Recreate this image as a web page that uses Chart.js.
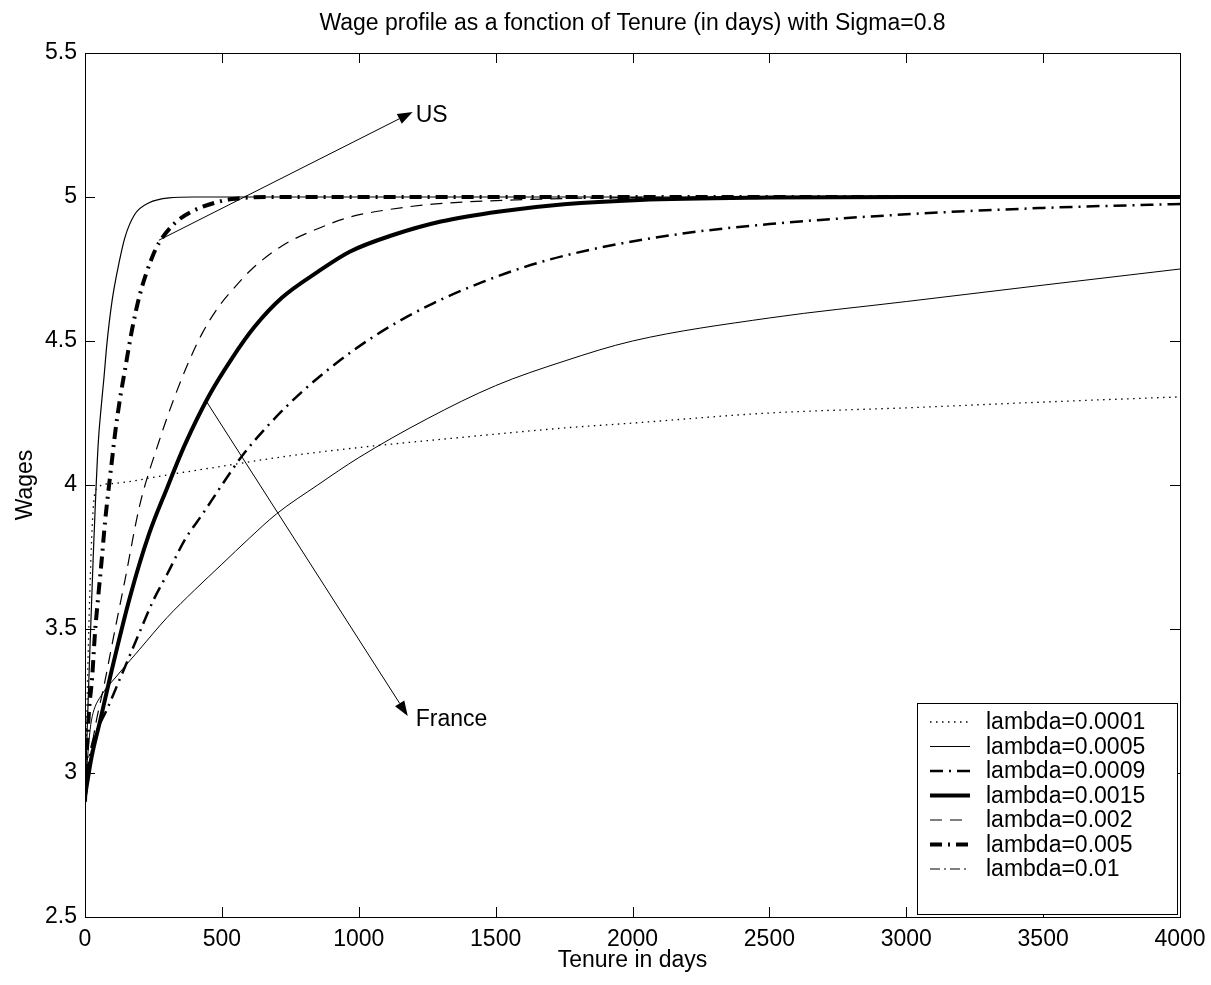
<!DOCTYPE html>
<html>
<head>
<meta charset="utf-8">
<title>Wage profile</title>
<script src="https://cdn.jsdelivr.net/npm/chart.js@4.4.1/dist/chart.umd.min.js"></script>
<style>
  html, body { margin: 0; padding: 0; background: #fff; }
  #wrap { width: 1211px; height: 985px; }
</style>
</head>
<body>
<div id="wrap"><canvas id="wageChart" width="1211" height="985"></canvas></div>
<script>
// --- Values: tenure in days / wage, one pair per lambda ---
const t0001 = [0, 10, 20, 30, 45, 100, 300, 500, 715, 1000, 1350, 1750, 2000, 2500, 3000, 3500, 4000];
const w0001 = [2.9, 3.35, 3.7, 3.92, 3.99, 4.005, 4.035, 4.065, 4.097, 4.13, 4.163, 4.198, 4.215, 4.25, 4.268, 4.288, 4.306];

const t0005 = [0, 10, 20, 30, 60, 110, 200, 300, 400, 500, 600, 700, 850, 1000, 1250, 1500, 1750, 2000, 2500, 3000, 3500, 4000];
const w0005 = [2.9, 3.06, 3.16, 3.21, 3.27, 3.33, 3.43, 3.54, 3.635, 3.725, 3.815, 3.9, 4.0, 4.095, 4.23, 4.345, 4.43, 4.5, 4.58, 4.637, 4.694, 4.75];

const t0009 = [0, 20, 50, 80, 120, 160, 200, 250, 300, 365, 430, 500, 573, 672, 800, 967, 1113, 1270, 1453, 1650, 1891, 2183, 2500, 3000, 3500, 4000];
const w0009 = [2.9, 3.07, 3.16, 3.22, 3.31, 3.4, 3.49, 3.6, 3.69, 3.81, 3.9, 4.0, 4.1, 4.21, 4.33, 4.458, 4.55, 4.63, 4.705, 4.77, 4.826, 4.873, 4.906, 4.94, 4.962, 4.976];

const t0015 = [0, 25, 55, 91, 164, 234, 300, 365, 453, 537, 620, 719, 850, 967, 1125, 1300, 1515, 1750, 2026, 2500, 3000, 4000];
const w0015 = [2.92, 3.06, 3.18, 3.33, 3.61, 3.83, 3.99, 4.14, 4.31, 4.44, 4.55, 4.65, 4.74, 4.81, 4.868, 4.915, 4.95, 4.975, 4.99, 4.998, 5.0, 5.0];

const t002 = [0, 30, 73, 110, 146, 200, 270, 325, 380, 430, 489, 550, 610, 719, 850, 967, 1100, 1270, 1577, 2000, 2500, 4000];
const w002 = [2.9, 3.12, 3.32, 3.5, 3.67, 3.93, 4.15, 4.3, 4.43, 4.53, 4.62, 4.69, 4.75, 4.83, 4.89, 4.93, 4.955, 4.975, 4.99, 4.998, 5.0, 5.0];

const t005 = [0, 7, 15, 26, 36, 51, 62, 73, 88, 99, 110, 128, 146, 172, 200, 245, 270, 329, 391, 475, 537, 700, 4000];
const w005 = [2.9, 3.08, 3.22, 3.33, 3.48, 3.64, 3.75, 3.87, 4.0, 4.09, 4.18, 4.3, 4.4, 4.54, 4.66, 4.79, 4.84, 4.91, 4.95, 4.98, 4.993, 5.0, 5.0];

const t001 = [0, 8, 15, 30, 48, 60, 69, 80, 99, 124, 146, 182, 234, 307, 400, 4000];
const w001 = [2.9, 3.15, 3.35, 3.75, 4.14, 4.28, 4.37, 4.49, 4.64, 4.77, 4.86, 4.94, 4.98, 4.997, 5.0, 5.0];

const seriesLabels = ["lambda=0.0001", "lambda=0.0005", "lambda=0.0009", "lambda=0.0015",
                      "lambda=0.002", "lambda=0.005", "lambda=0.01"];

const chartTitle = "Wage profile as a fonction of Tenure (in days) with Sigma=0.8";

// annotation arrows, in data coordinates (tenure, wage)
const arrowUS = { from: [270, 4.85], to: [1197, 5.295], text: "US", dx: 3 };
const arrowFrance = { from: [445, 4.288], to: [1179, 3.198], text: "France", dx: 8 };

const FONT = "'Liberation Sans', Arial, Helvetica, sans-serif";
const FSIZE = 23;

function pts(t, w) {
  return t.map((x, i) => ({ x: x, y: w[i] }));
}

function line(label, t, w, width, dash) {
  return {
    label: label,
    data: pts(t, w),
    borderColor: "#000",
    backgroundColor: "#000",
    borderWidth: width,
    borderDash: dash,
    pointRadius: 0,
    fill: false,
    cubicInterpolationMode: "monotone"
  };
}

// --- inner ticks + closed box (matlab style), title centred over the plot ---
const boxTicks = {
  id: "boxTicks",
  afterDatasetsDraw(chart) {
    const { ctx, chartArea: a, scales } = chart;
    const len = 10;
    ctx.save();
    ctx.strokeStyle = "#000";
    ctx.lineWidth = 1;
    ctx.setLineDash([]);
    ctx.beginPath();
    scales.x.ticks.forEach((tk) => {
      const px = Math.round(scales.x.getPixelForValue(tk.value)) + 0.5;
      ctx.moveTo(px, a.bottom); ctx.lineTo(px, a.bottom - len);
      ctx.moveTo(px, a.top); ctx.lineTo(px, a.top + len);
    });
    scales.y.ticks.forEach((tk) => {
      const py = Math.round(scales.y.getPixelForValue(tk.value)) + 0.5;
      ctx.moveTo(a.left, py); ctx.lineTo(a.left + len, py);
      ctx.moveTo(a.right, py); ctx.lineTo(a.right - len, py);
    });
    ctx.stroke();
    ctx.strokeRect(Math.round(a.left) + 0.5, Math.round(a.top) + 0.5,
                   Math.round(a.right - a.left), Math.round(a.bottom - a.top));

    ctx.fillStyle = "#000";
    ctx.font = FSIZE + "px " + FONT;
    ctx.textAlign = "center";
    ctx.textBaseline = "middle";
    ctx.fillText(chartTitle, (a.left + a.right) / 2, a.top - 29);
    ctx.restore();
  }
};

// --- arrows with their labels ---
const arrows = {
  id: "arrows",
  afterDatasetsDraw(chart) {
    const { ctx, scales } = chart;
    [arrowUS, arrowFrance].forEach((ar) => {
      const x0 = scales.x.getPixelForValue(ar.from[0]);
      const y0 = scales.y.getPixelForValue(ar.from[1]);
      const x1 = scales.x.getPixelForValue(ar.to[0]);
      const y1 = scales.y.getPixelForValue(ar.to[1]);
      const ang = Math.atan2(y1 - y0, x1 - x0);
      const hl = 15, hw = 5.5;
      ctx.save();
      ctx.strokeStyle = "#000";
      ctx.fillStyle = "#000";
      ctx.lineWidth = 1;
      ctx.setLineDash([]);
      ctx.beginPath();
      ctx.moveTo(x0, y0);
      ctx.lineTo(x1 - Math.cos(ang) * hl, y1 - Math.sin(ang) * hl);
      ctx.stroke();
      ctx.beginPath();
      ctx.moveTo(x1, y1);
      ctx.lineTo(x1 - Math.cos(ang) * hl - Math.sin(ang) * hw, y1 - Math.sin(ang) * hl + Math.cos(ang) * hw);
      ctx.lineTo(x1 - Math.cos(ang) * hl + Math.sin(ang) * hw, y1 - Math.sin(ang) * hl - Math.cos(ang) * hw);
      ctx.closePath();
      ctx.fill();
      ctx.font = FSIZE + "px " + FONT;
      ctx.textAlign = "left";
      ctx.textBaseline = "middle";
      ctx.fillText(ar.text, x1 + ar.dx, y1 + 4);
      ctx.restore();
    });
  }
};

// --- legend box in the lower right corner of the plot ---
const boxLegend = {
  id: "boxLegend",
  afterDraw(chart) {
    const { ctx, chartArea: a } = chart;
    const sets = chart.data.datasets;
    const w = 260, h = 211;
    const x = a.right - 3 - w, y = a.bottom - 3 - h;
    ctx.save();
    ctx.fillStyle = "#fff";
    ctx.fillRect(x, y, w, h);
    ctx.strokeStyle = "#000";
    ctx.lineWidth = 1;
    ctx.setLineDash([]);
    ctx.strokeRect(Math.round(x) + 0.5, Math.round(y) + 0.5, w, h);
    ctx.font = FSIZE + "px " + FONT;
    ctx.textBaseline = "middle";
    ctx.fillStyle = "#000";
    sets.forEach((ds, i) => {
      const cy = y + 19 + i * 24.5;
      ctx.beginPath();
      ctx.lineWidth = ds.borderWidth;
      ctx.setLineDash(ds.borderDash || []);
      ctx.moveTo(x + 13, cy);
      ctx.lineTo(x + 53, cy);
      ctx.stroke();
      ctx.setLineDash([]);
      ctx.fillText(ds.label, x + 69, cy + 1);
    });
    ctx.restore();
  }
};

const tickFont = { family: FONT, size: FSIZE };

// steep lambda=0.01 curve prints as a solid stroke in the figure
const solidSeg = { borderDash: () => [] };

const datasets = [
  line(seriesLabels[0], t0001, w0001, 1.3, [1.5, 4.5]),
  line(seriesLabels[1], t0005, w0005, 1, []),
  line(seriesLabels[2], t0009, w0009, 2.5, [13, 6, 2, 6]),
  line(seriesLabels[3], t0015, w0015, 4, []),
  line(seriesLabels[4], t002, w002, 1.2, [12, 8]),
  line(seriesLabels[5], t005, w005, 4, [12, 6, 2, 6]),
  line(seriesLabels[6], t001, w001, 1.2, [10, 4, 2, 4])
];
datasets[6].segment = solidSeg;

new Chart(document.getElementById("wageChart"), {
  type: "line",
  data: { datasets: datasets },
  options: {
    responsive: false,
    animation: false,
    devicePixelRatio: 1,
    layout: { padding: { left: 0, right: 31, top: 53, bottom: 0 } },
    scales: {
      x: {
        type: "linear",
        min: 0,
        max: 4000,
        ticks: { stepSize: 500, color: "#000", font: tickFont, padding: 9, maxRotation: 0, callback: (v) => String(v) },
        grid: { display: false, drawTicks: false },
        border: { display: true, color: "#000" },
        title: { display: true, text: "Tenure in days", color: "#000", font: tickFont, padding: { top: 0, bottom: 11 } },
        afterFit: (s) => { s.height = 68; s.paddingLeft = 0; s.paddingRight = 0; }
      },
      y: {
        min: 2.5,
        max: 5.5,
        ticks: { stepSize: 0.5, color: "#000", font: tickFont, padding: 8, callback: (v) => String(v) },
        grid: { display: false, drawTicks: false },
        border: { display: true, color: "#000" },
        title: { display: true, text: "Wages", color: "#000", font: tickFont, padding: { top: 12, bottom: 0 } },
        afterFit: (s) => { s.width = 85; s.paddingTop = 0; s.paddingBottom = 0; }
      }
    },
    plugins: {
      legend: { display: false },
      tooltip: { enabled: false },
      title: { display: false }
    }
  },
  plugins: [boxTicks, arrows, boxLegend]
});
</script>
</body>
</html>
